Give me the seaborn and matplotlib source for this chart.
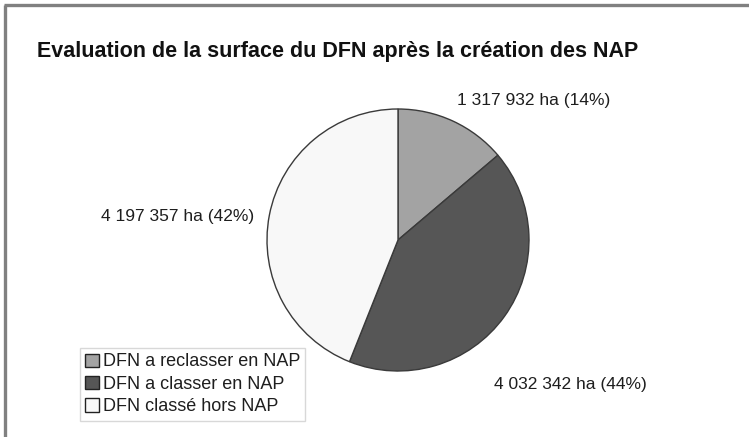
import matplotlib
matplotlib.use("Agg")
import matplotlib.pyplot as plt
from matplotlib.lines import Line2D
from matplotlib.patches import Patch
import seaborn as sns

# ---- data ----
categories = ["DFN a reclasser en NAP", "DFN a classer en NAP", "DFN classé hors NAP"]
surfaces_ha = [1317932, 4032342, 4197357]
value_labels = ["1 317 932 ha (14%)", "4 032 342 ha (44%)", "4 197 357 ha (42%)"]
title = "Evaluation de la surface du DFN après la création des NAP"

sns.set_theme(style="white")
plt.rcParams["font.family"] = ["Liberation Sans", "DejaVu Sans"]

colors = ["#a3a3a3", "#565656", "#f8f8f8"]
edge = "#3a3a3a"

W, H = 749, 437
fig = plt.figure(figsize=(W / 100, H / 100), dpi=100)
ax = fig.add_axes([0, 0, 1, 1])

cx, cy, r = 398, H - 240, 131
wedges, _ = ax.pie(surfaces_ha, colors=colors, startangle=90, counterclock=False,
                   center=(cx, cy), radius=r,
                   wedgeprops=dict(edgecolor=edge, linewidth=1.0))
ax.set_xlim(0, W)
ax.set_ylim(0, H)
ax.set_aspect("auto")
ax.axis("off")

txt = "#1e1e1e"
fs = 12.5
ax.text(457, H - 100, value_labels[0], fontsize=fs, color=txt, ha="left", va="center")
ax.text(494, H - 384, value_labels[1], fontsize=fs, color=txt, ha="left", va="center")
ax.text(101, H - 216, value_labels[2], fontsize=fs, color=txt, ha="left", va="center")

fig.text(37 / W, 1 - 52 / H, title, fontsize=15.5, fontweight="bold", color="#111111",
         ha="left", va="center")

handles = [Patch(facecolor=c, edgecolor="#222222", linewidth=1.0) for c in colors]
leg = fig.legend(handles, categories, loc="upper left",
                 bbox_to_anchor=(80 / W, 1 - 348 / H), frameon=True, fancybox=False,
                 fontsize=13, handlelength=0.75, handleheight=0.75, handletextpad=0.2,
                 labelspacing=0.3, borderpad=0.3, borderaxespad=0, labelcolor=txt)
leg.get_frame().set_edgecolor("#cfcfcf")
leg.get_frame().set_linewidth(1.0)

# figure border (left and top)
bc = "#808080"
fig.add_artist(Line2D([5 / W, 5 / W], [0, 1 - 5 / H], transform=fig.transFigure,
                      color=bc, linewidth=2.4, solid_capstyle="butt"))
fig.add_artist(Line2D([3.8 / W, 1], [1 - 5 / H, 1 - 5 / H], transform=fig.transFigure,
                      color=bc, linewidth=2.4, solid_capstyle="butt"))

fig.savefig("out.png", dpi=100)
